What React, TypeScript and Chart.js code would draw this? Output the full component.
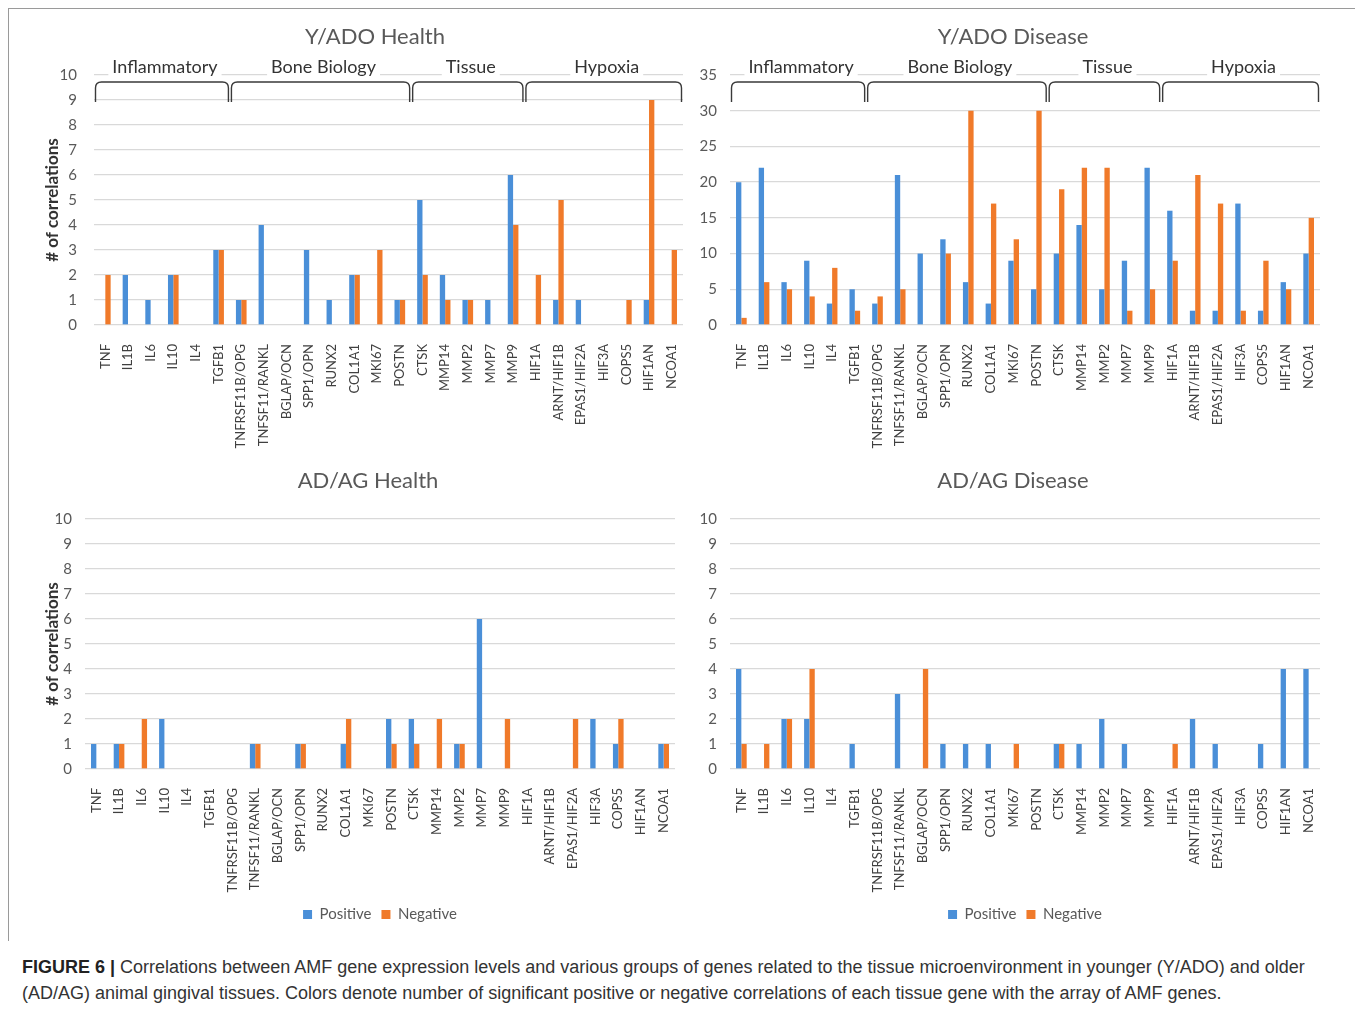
import React, { useEffect, useRef } from "react";
import { Chart, registerables } from "chart.js";

Chart.register(...registerables);

// ---------------- DATA ----------------
const categories = [
  "TNF", "IL1B", "IL6", "IL10", "IL4", "TGFB1",
  "TNFRSF11B/OPG", "TNFSF11/RANKL", "BGLAP/OCN", "SPP1/OPN", "RUNX2", "COL1A1", "MKI67", "POSTN",
  "CTSK", "MMP14", "MMP2", "MMP7", "MMP9",
  "HIF1A", "ARNT/HIF1B", "EPAS1/HIF2A", "HIF3A", "COPS5", "HIF1AN", "NCOA1",
];

const groupNames = ["Inflammatory", "Bone Biology", "Tissue", "Hypoxia"];
const groupFirst = [0, 6, 14, 19];
const groupLast = [5, 13, 18, 25];

const seriesNames = ["Positive", "Negative"];

const yadoHealthPositive = [0, 2, 1, 2, 0, 3, 1, 4, 0, 3, 1, 2, 0, 1, 5, 2, 1, 1, 6, 0, 1, 1, 0, 0, 1, 0];
const yadoHealthNegative = [2, 0, 0, 2, 0, 3, 1, 0, 0, 0, 0, 2, 3, 1, 2, 1, 1, 0, 4, 2, 5, 0, 0, 1, 9, 3];

const yadoDiseasePositive = [20, 22, 6, 9, 3, 5, 3, 21, 10, 12, 6, 3, 9, 5, 10, 14, 5, 9, 22, 16, 2, 2, 17, 2, 6, 10];
const yadoDiseaseNegative = [1, 6, 5, 4, 8, 2, 4, 5, 0, 10, 30, 17, 12, 30, 19, 22, 22, 2, 5, 9, 21, 17, 2, 9, 5, 15];

const adagHealthPositive = [1, 1, 0, 2, 0, 0, 0, 1, 0, 1, 0, 1, 0, 2, 2, 0, 1, 6, 0, 0, 0, 0, 2, 1, 0, 1];
const adagHealthNegative = [0, 1, 2, 0, 0, 0, 0, 1, 0, 1, 0, 2, 0, 1, 1, 2, 1, 0, 2, 0, 0, 2, 0, 2, 0, 1];

const adagDiseasePositive = [4, 0, 2, 2, 0, 1, 0, 3, 0, 1, 1, 1, 0, 0, 1, 1, 2, 1, 0, 0, 2, 1, 0, 1, 4, 4];
const adagDiseaseNegative = [1, 1, 2, 4, 0, 0, 0, 0, 4, 0, 0, 0, 1, 0, 1, 0, 0, 0, 0, 1, 0, 0, 0, 0, 0, 0];

// ---------------- STYLE ----------------
const BLUE = "#4a8fd8";
const ORANGE = "#f07a2a";
const GRID = "#d9d9d9";
const FONT = "Lato, 'Open Sans', sans-serif";

Chart.defaults.font.family = FONT;

type Panel = {
  title: string;
  pos: number[];
  neg: number[];
  left: number;
  top: number;
  width: number;
  height: number;
  x0: number;
  y0: number;
  x1: number;
  y1: number;
  yMax: number;
  yStep: number;
  yTitle: boolean;
  groups: boolean;
  legend: boolean;
  titleX: number;
  titleY: number;
  tickPad: number;
  xh: number;
};

const panels: Panel[] = [
  {
    title: "Y/ADO Health", pos: yadoHealthPositive, neg: yadoHealthNegative,
    left: 10, top: 10, width: 690, height: 450,
    x0: 94, y0: 75, x1: 683, y1: 325,
    yMax: 10, yStep: 1, yTitle: true, groups: true, legend: false,
    titleX: 375, titleY: 37, tickPad: 17, xh: 130,
  },
  {
    title: "Y/ADO Disease", pos: yadoDiseasePositive, neg: yadoDiseaseNegative,
    left: 700, top: 10, width: 655, height: 450,
    x0: 730, y0: 75, x1: 1320, y1: 325,
    yMax: 35, yStep: 5, yTitle: false, groups: true, legend: false,
    titleX: 1013, titleY: 37, tickPad: 13, xh: 130,
  },
  {
    title: "AD/AG Health", pos: adagHealthPositive, neg: adagHealthNegative,
    left: 10, top: 460, width: 690, height: 475,
    x0: 85, y0: 519, x1: 675, y1: 769,
    yMax: 10, yStep: 1, yTitle: true, groups: false, legend: true,
    titleX: 368, titleY: 481, tickPad: 13, xh: 128,
  },
  {
    title: "AD/AG Disease", pos: adagDiseasePositive, neg: adagDiseaseNegative,
    left: 700, top: 460, width: 655, height: 475,
    x0: 730, y0: 519, x1: 1320, y1: 769,
    yMax: 10, yStep: 1, yTitle: false, groups: false, legend: true,
    titleX: 1013, titleY: 481, tickPad: 13, xh: 128,
  },
];

const LEGEND_H = 35;

const decorPlugin = {
  id: "decor",
  afterDraw(chart: any, _args: any, opts: any) {
    const ctx = chart.ctx as CanvasRenderingContext2D;
    ctx.save();
    // chart title
    ctx.font = `22px ${FONT}`;
    ctx.fillStyle = "#595959";
    ctx.textAlign = "center";
    ctx.textBaseline = "middle";
    ctx.fillText(opts.title, opts.titleX, opts.titleY);

    if (opts.groups) {
      const xs = chart.scales.x;
      const half = (xs.getPixelForValue(1) - xs.getPixelForValue(0)) / 2;
      const bTop = opts.bracketTop;
      const bBottom = bTop + 20;
      const r = 6;
      groupNames.forEach((name, i) => {
        const l = xs.getPixelForValue(groupFirst[i]) - half + 1.5;
        const rr = xs.getPixelForValue(groupLast[i]) + half - 1.5;
        // bracket
        ctx.strokeStyle = "#3a3a3a";
        ctx.lineWidth = 1.4;
        ctx.beginPath();
        ctx.moveTo(l, bBottom);
        ctx.lineTo(l, bTop + r);
        ctx.quadraticCurveTo(l, bTop, l + r, bTop);
        ctx.lineTo(rr - r, bTop);
        ctx.quadraticCurveTo(rr, bTop, rr, bTop + r);
        ctx.lineTo(rr, bBottom);
        ctx.stroke();
        // label with white box
        ctx.font = `18px ${FONT}`;
        const w = ctx.measureText(name).width;
        const cx = (l + rr) / 2 + 3;
        ctx.fillStyle = "#ffffff";
        ctx.fillRect(cx - w / 2 - 4, opts.labelY - 11, w + 8, 20);
        ctx.fillStyle = "#333333";
        ctx.fillText(name, cx, opts.labelY);
      });
    }
    ctx.restore();
  },
};

function ChartPanel({ p }: { p: Panel }) {
  const ref = useRef<HTMLCanvasElement | null>(null);
  useEffect(() => {
    if (!ref.current) return;
    const yw = p.x0 - p.left;
    const padTop = p.y0 - p.top;
    const padRight = p.left + p.width - p.x1;
    const padBottom = p.height - (p.y1 - p.top) - p.xh - (p.legend ? LEGEND_H : 0);
    const chart = new Chart(ref.current, {
      type: "bar",
      data: {
        labels: categories,
        datasets: [
          { label: seriesNames[0], data: p.pos, backgroundColor: BLUE, borderWidth: 0 },
          { label: seriesNames[1], data: p.neg, backgroundColor: ORANGE, borderWidth: 0 },
        ],
      },
      plugins: [decorPlugin],
      options: {
        animation: false,
        responsive: false,
        devicePixelRatio: 1,
        events: [],
        layout: { padding: { left: 0, right: padRight, top: padTop, bottom: padBottom } },
        datasets: { bar: { categoryPercentage: 0.47, barPercentage: 1.0 } },
        scales: {
          x: {
            grid: { display: false },
            border: { display: false },
            ticks: {
              autoSkip: false,
              maxRotation: 90,
              minRotation: 90,
              padding: 11,
              color: "#404040",
              font: { size: 13, family: FONT },
            },
            afterFit: (s: any) => { s.height = p.xh; },
          },
          y: {
            min: 0,
            max: p.yMax,
            ticks: {
              stepSize: p.yStep,
              padding: p.tickPad,
              color: "#595959",
              font: { size: 15, family: FONT },
            },
            grid: { color: GRID, lineWidth: 1.3, drawTicks: false },
            border: { display: false },
            title: {
              display: p.yTitle,
              text: "# of correlations",
              color: "#333333",
              font: { size: 17, weight: "bold", family: FONT },
              padding: { top: 32, bottom: 0 },
            },
            afterFit: (s: any) => { s.width = yw; },
          },
        },
        plugins: {
          legend: {
            display: p.legend,
            position: "bottom",
            fullSize: false,
            labels: {
              boxWidth: 9,
              boxHeight: 9,
              padding: 10,
              color: "#595959",
              font: { size: 15, family: FONT },
            },
          },
          title: { display: false },
          tooltip: { enabled: false },
          decor: {
            title: p.title,
            titleX: p.titleX - p.left,
            titleY: p.titleY - p.top,
            groups: p.groups,
            labelY: 67 - p.top,
            bracketTop: 82 - p.top,
          },
        } as any,
      },
    });
    return () => chart.destroy();
  }, [p]);
  return (
    <canvas
      ref={ref}
      width={p.width}
      height={p.height}
      style={{ position: "absolute", left: p.left, top: p.top, width: p.width, height: p.height }}
    />
  );
}

export default function App() {
  return (
    <div
      style={{
        position: "fixed",
        left: 0,
        top: 0,
        width: 1355,
        height: 1011,
        background: "#ffffff",
        overflow: "hidden",
      }}
    >
      <div
        style={{
          position: "absolute",
          left: 8,
          top: 8,
          width: 1400,
          height: 932,
          borderLeft: "1px solid #9a9a9a",
          borderTop: "1px solid #9a9a9a",
        }}
      />
      {panels.map((p) => (
        <ChartPanel key={p.title} p={p} />
      ))}
      <div
        style={{
          position: "absolute",
          left: 22,
          top: 954,
          fontFamily: "'Liberation Sans Narrow', 'Liberation Sans', Arial, sans-serif",
          fontSize: 18,
          lineHeight: "26px",
          color: "#333333",
          whiteSpace: "nowrap",
        }}
      >
        <div>
          <span style={{ fontWeight: "bold", color: "#222222" }}>FIGURE 6 |</span> Correlations between AMF gene
          expression levels and various groups of genes related to the tissue microenvironment in younger (Y/ADO)
          and older
        </div>
        <div>
          (AD/AG) animal gingival tissues. Colors denote number of significant positive or negative correlations of
          each tissue gene with the array of AMF genes.
        </div>
      </div>
    </div>
  );
}
